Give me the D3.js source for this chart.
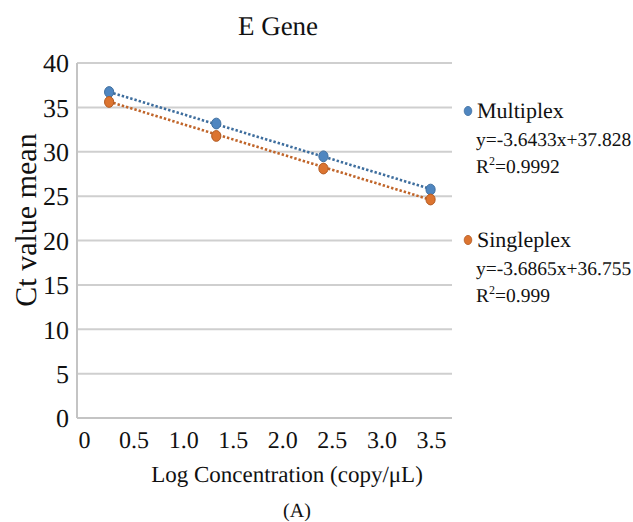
<!DOCTYPE html>
<html><head><meta charset="utf-8">
<script src="https://cdn.jsdelivr.net/npm/d3@7"></script>
</head>
<body style="margin:0;background:#fff">
<svg id="c" width="633" height="522" text-rendering="geometricPrecision"></svg>
<script>
// ---- data ----
const logConc = [0.3, 1.3, 2.3, 3.3];
const multiplexCt = [36.73, 33.18, 29.49, 25.74];
const singleplexCt = [35.61, 31.78, 28.11, 24.62];
const seriesNames = ["Multiplex", "Singleplex"];
const slopes = [-3.6433, -3.6865];
const intercepts = [37.828, 36.755];
const equations = ["y=-3.6433x+37.828", "y=-3.6865x+36.755"];
const r2Values = ["0.9992", "0.999"];
const yTicks = [0, 5, 10, 15, 20, 25, 30, 35, 40];
const xTickLabels = ["0", "0.5", "1.0", "1.5", "2.0", "2.5", "3.0", "3.5"];

const FONT = "'Liberation Serif', 'Times New Roman', serif";
const fills = ["#4f86c0", "#dc7430"];
const strokes = ["#3f6f9f", "#b25a22"];
const trendColors = ["#3e6e9e", "#c0652a"];

const svg = d3.select("#c");
const x = d3.scaleLinear().domain([0, 3.5]).range([77, 452]);
const y = d3.scaleLinear().domain([0, 40]).range([418, 63]);
const xLab = d3.scalePoint().domain(xTickLabels).range([84, 431]);

function txt(sel, size) {
  return sel.attr("font-family", null).attr("font-size", null)
    .style("font-family", FONT).style("font-size", size + "px").attr("fill", "#111");
}

// gridlines
svg.append("g").selectAll("line").data(yTicks.filter(d => d > 0)).join("line")
  .attr("x1", x(0)).attr("x2", x(3.5))
  .attr("y1", d => y(d)).attr("y2", d => y(d))
  .attr("stroke", "#cfcfcf").attr("stroke-width", 2);

// axis lines
svg.append("line").attr("x1", x(0)).attr("x2", x(3.5)).attr("y1", y(0)).attr("y2", y(0))
  .attr("stroke", "#c4c4c4").attr("stroke-width", 2);
svg.append("line").attr("x1", x(0)).attr("x2", x(0)).attr("y1", y(0)).attr("y2", y(40))
  .attr("stroke", "#c4c4c4").attr("stroke-width", 2);

// y axis labels
const yAxis = svg.append("g").attr("transform", `translate(${x(0) - 6},0)`)
  .call(d3.axisLeft(y).tickValues(yTicks).tickSize(0).tickPadding(2).tickFormat(d3.format("d")));
yAxis.attr("font-family", null).attr("font-size", null);
yAxis.select(".domain").remove();
txt(yAxis.selectAll("text"), 26).attr("dy", "0.34em");

// x axis labels
const xAxis = svg.append("g").attr("transform", `translate(0,${y(0) + 6})`)
  .call(d3.axisBottom(xLab).tickSize(0).tickPadding(4));
xAxis.attr("font-family", null).attr("font-size", null);
xAxis.select(".domain").remove();
txt(xAxis.selectAll("text"), 24).attr("dy", "0.85em");

// trendlines
const series = [multiplexCt, singleplexCt];
series.forEach((vals, i) => {
  const ext = d3.extent(logConc);
  const pts = ext.map(v => [v, slopes[i] * v + intercepts[i]]);
  svg.append("path")
    .attr("d", d3.line().x(d => x(d[0])).y(d => y(d[1]))(pts))
    .attr("fill", "none").attr("stroke", trendColors[i]).attr("stroke-width", 2.6)
    .attr("stroke-dasharray", "2.4,2");
});
// markers
series.forEach((vals, i) => {
  svg.append("g").selectAll("ellipse").data(vals).join("ellipse")
    .attr("cx", (d, j) => x(logConc[j])).attr("cy", d => y(d))
    .attr("rx", 4.6).attr("ry", 5.4)
    .attr("fill", fills[i]).attr("stroke", strokes[i]).attr("stroke-width", 1);
});

// title
txt(svg.append("text"), 27).attr("x", 278).attr("y", 35).attr("text-anchor", "middle").text("E Gene");

// y title
txt(svg.append("text"), 30).attr("transform", "translate(36,220) rotate(-90)")
  .attr("text-anchor", "middle").text("Ct value mean");

// x title
txt(svg.append("text"), 23).attr("x", 287).attr("y", 482).attr("text-anchor", "middle")
  .text("Log Concentration (copy/μL)");
txt(svg.append("text"), 20).attr("x", 297).attr("y", 517).attr("text-anchor", "middle").text("(A)");

// legend
const legTop = [111, 240];
seriesNames.forEach((name, i) => {
  const g = svg.append("g").attr("transform", `translate(0,${legTop[i]})`);
  g.append("ellipse").attr("cx", 468).attr("cy", 0).attr("rx", 3.8).attr("ry", 4.6)
    .attr("fill", fills[i]).attr("stroke", strokes[i]).attr("stroke-width", 0.8);
  txt(g.append("text"), 22).attr("x", 477).attr("y", 7).text(name);
  txt(g.append("text"), 19.5).attr("x", 476).attr("y", 35).text(equations[i]);
  const r = txt(g.append("text"), 19.5).attr("x", 476).attr("y", 62);
  r.append("tspan").text("R");
  r.append("tspan").style("font-size", "12px").attr("dy", -8).text("2");
  r.append("tspan").attr("dy", 8).text("=" + r2Values[i]);
});
</script></body></html>
